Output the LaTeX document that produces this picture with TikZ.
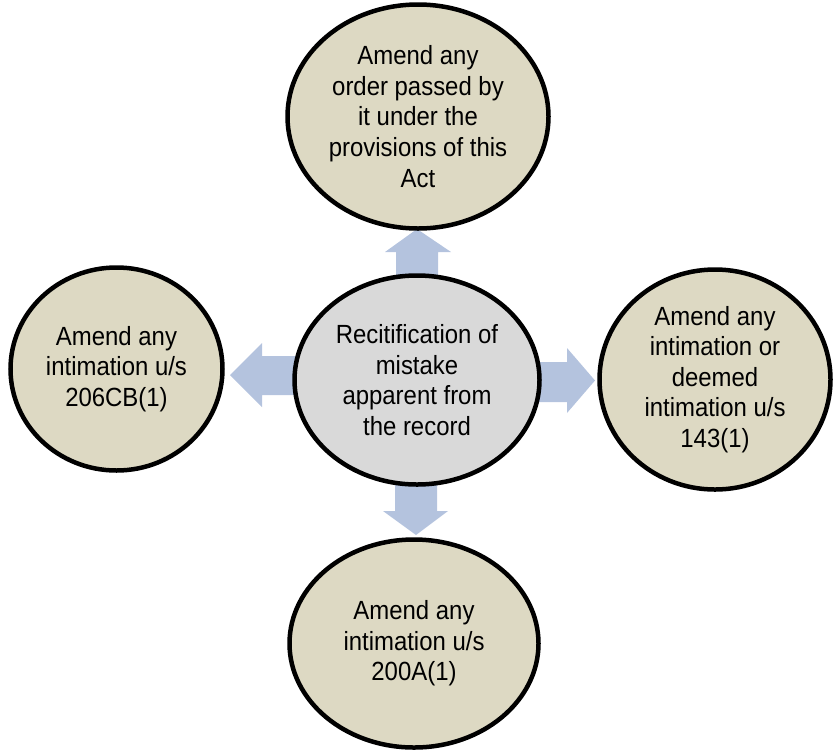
\documentclass[tikz,border=0pt]{standalone}
\usepackage{fontspec}
\setmainfont{Liberation Sans}[FakeStretch=0.91]
\usetikzlibrary{shapes.geometric}
\definecolor{bubbletan}{HTML}{DDD9C3}
\definecolor{centergray}{HTML}{D9D9D9}
\definecolor{arrowblue}{HTML}{B4C3DE}
\begin{document}
\begin{tikzpicture}[x=1pt,y=-1pt,
  bubble/.style={ellipse, draw=black, line width=4.5pt, inner sep=0pt, align=center,
    font=\fontsize{26.3}{30.6}\selectfont, fill=bubbletan},
  blockarrow/.style={fill=arrowblue, draw=none}]
\useasboundingbox (0,0) rectangle (834,750);
% block arrows (behind the ellipses)
\fill[blockarrow] (396,300) -- (396,252) -- (385,252) -- (417,229) -- (451,252) -- (438,252) -- (438,300) -- cycle;
\fill[blockarrow] (310,356) -- (262,356) -- (262,343) -- (230,375) -- (262,407) -- (262,395) -- (310,395) -- cycle;
\fill[blockarrow] (525,362) -- (567,362) -- (567,348) -- (595,380.5) -- (567,413) -- (567,402) -- (525,402) -- cycle;
\fill[blockarrow] (395,460) -- (395,511) -- (383,511) -- (416,535) -- (448,511) -- (437,511) -- (437,460) -- cycle;
% ellipses
\node[bubble, fill=centergray, minimum width=245pt, minimum height=209pt] (center) at (417,380)
  {Recitification of\\mistake\\apparent from\\the record};
\node[bubble, minimum width=261pt, minimum height=224pt] (top) at (418,116.5)
  {Amend any\\order passed by\\it under the\\provisions of this\\Act};
\node[bubble, minimum width=212pt, minimum height=203pt] (left) at (116.5,369)
  {Amend any\\intimation u/s\\206CB(1)};
\node[bubble, minimum width=231pt, minimum height=220pt] (right) at (715,379.5)
  {Amend any\\intimation or\\deemed\\intimation u/s\\143(1)};
\node[bubble, minimum width=249pt, minimum height=208pt] (bottom) at (414,643.5)
  {Amend any\\intimation u/s\\200A(1)};
\end{tikzpicture}
\end{document}
